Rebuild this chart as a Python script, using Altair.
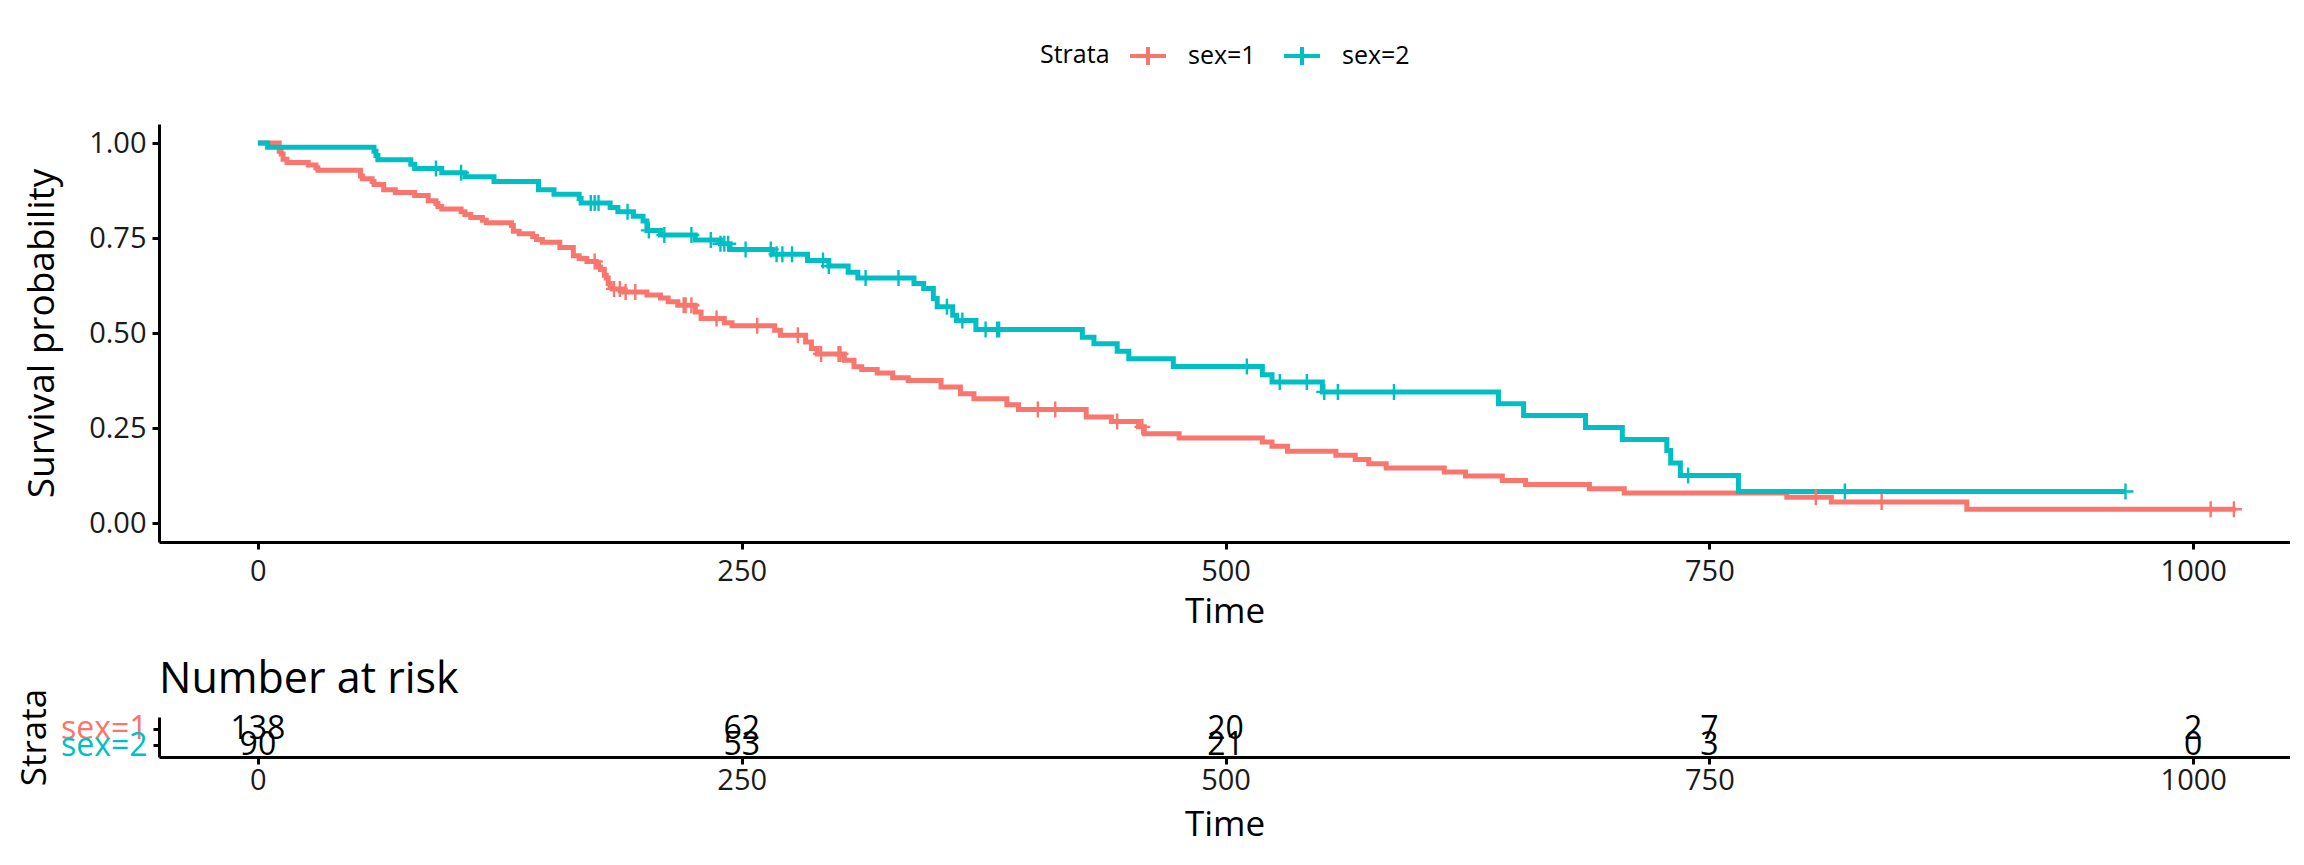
import altair as alt
import pandas as pd

STRATA = ["sex=1", "sex=2"]
COLORS = ["#F8766D", "#00BFC4"]

# sex=1 Kaplan-Meier steps (time, survival after step)
m_time = [0, 11, 12, 13, 15, 26, 30, 31, 53, 54, 59, 60, 65, 71, 81, 88, 92, 93, 95, 105,
          107, 110, 116, 118, 131, 132, 135, 142, 144, 147, 156, 163, 166, 170, 175, 176,
          177, 179, 180, 181, 182, 183, 189, 201, 208, 212, 217, 226, 229, 241, 245, 267,
          270, 283, 286, 289, 303, 308, 312, 320, 328, 336, 353, 363, 370, 387, 393, 428,
          441, 455, 458, 476, 519, 524, 532, 557, 567, 574, 583, 613, 624, 643, 655, 688,
          706, 790, 813, 883, 1022]
m_surv = [1.0, 0.978, 0.971, 0.957, 0.949, 0.942, 0.935, 0.928, 0.913, 0.906, 0.899, 0.891,
          0.877, 0.870, 0.862, 0.848, 0.841, 0.833, 0.826, 0.819, 0.812, 0.804, 0.797, 0.790,
          0.783, 0.768, 0.761, 0.754, 0.746, 0.739, 0.725, 0.703, 0.696, 0.688, 0.681, 0.674,
          0.667, 0.652, 0.645, 0.630, 0.623, 0.616, 0.608, 0.600, 0.592, 0.582, 0.573, 0.555,
          0.538, 0.527, 0.519, 0.507, 0.494, 0.476, 0.459, 0.445, 0.428, 0.411, 0.404, 0.395,
          0.382, 0.375, 0.358, 0.340, 0.327, 0.311, 0.299, 0.279, 0.267, 0.253, 0.235, 0.224,
          0.213, 0.202, 0.189, 0.178, 0.167, 0.156, 0.145, 0.134, 0.124, 0.112, 0.101, 0.090,
          0.079, 0.068, 0.055, 0.036, 0.036]
m_cens = [174, 184, 187, 190, 195, 220, 221, 224, 237, 258, 279, 291, 300, 301, 403, 412,
          444, 457, 805, 839, 1009, 1021]

# sex=2 Kaplan-Meier steps
f_time = [0, 5, 60, 61, 62, 79, 81, 95, 107, 122, 145, 153, 166, 167, 182, 186, 194, 199,
          201, 208, 226, 239, 244, 266, 284, 295, 305, 310, 339, 344, 349, 351, 359, 361,
          371, 426, 432, 444, 450, 473, 519, 524, 550, 641, 654, 686, 705, 728, 730, 735,
          765, 965]
f_surv = [1.0, 0.989, 0.978, 0.967, 0.956, 0.944, 0.933, 0.922, 0.911, 0.899, 0.877, 0.865,
          0.854, 0.842, 0.830, 0.819, 0.807, 0.795, 0.770, 0.758, 0.745, 0.735, 0.720, 0.707,
          0.691, 0.676, 0.660, 0.645, 0.630, 0.617, 0.591, 0.569, 0.547, 0.533, 0.509, 0.489,
          0.472, 0.452, 0.432, 0.412, 0.390, 0.371, 0.345, 0.314, 0.283, 0.251, 0.220, 0.191,
          0.158, 0.125, 0.083, 0.083]
f_cens = [92, 105, 172, 174, 176, 191, 202, 210, 224, 234, 239, 241, 243, 252, 265, 268,
          271, 276, 292, 295, 314, 331, 356, 364, 376, 382, 383, 511, 528, 542, 551, 558,
          587, 739, 820, 965]

# number at risk
risk_times = [0, 250, 500, 750, 1000]
risk_m = [138, 62, 20, 7, 2]
risk_f = [90, 53, 21, 3, 0]


def surv_at(times, survs, t):
    s = survs[0]
    for tt, ss in zip(times, survs):
        if tt <= t:
            s = ss
        else:
            break
    return s


curve = pd.concat([
    pd.DataFrame({"time": m_time, "surv": m_surv, "strata": STRATA[0]}),
    pd.DataFrame({"time": f_time, "surv": f_surv, "strata": STRATA[1]}),
], ignore_index=True)

cens = pd.concat([
    pd.DataFrame({"time": m_cens, "surv": [surv_at(m_time, m_surv, t) for t in m_cens],
                  "strata": STRATA[0]}),
    pd.DataFrame({"time": f_cens, "surv": [surv_at(f_time, f_surv, t) for t in f_cens],
                  "strata": STRATA[1]}),
], ignore_index=True)

risk = pd.concat([
    pd.DataFrame({"time": risk_times, "n": risk_m, "strata": STRATA[0]}),
    pd.DataFrame({"time": risk_times, "n": risk_f, "strata": STRATA[1]}),
], ignore_index=True)

FONT = "Open Sans"
W = 2131
xscale = alt.Scale(domain=[-51.1, 1050], nice=False, zero=False)


def x_axis(label_pad, title_pad):
    return alt.Axis(values=[0, 250, 500, 750, 1000], format="d", title="Time", grid=False,
                    domainColor="black", domainWidth=3, tickColor="black", tickWidth=3,
                    tickSize=7, labelFontSize=29, labelColor="#1a1a1a",
                    labelPadding=label_pad, titleFontSize=35, titleFontWeight="normal",
                    titleColor="black", titlePadding=title_pad, labelFont=FONT,
                    titleFont=FONT, labelFlush=False)


color = alt.Color("strata:N", scale=alt.Scale(domain=STRATA, range=COLORS),
                  legend=alt.Legend(title="Strata", orient="none", direction="horizontal",
                                    legendX=881, legendY=-88, titleOrient="left",
                                    titleFontSize=25, titleFontWeight="normal",
                                    titleColor="black", labelFontSize=25, labelColor="black",
                                    titleFont=FONT, labelFont=FONT, titlePadding=18,
                                    symbolType="M-1,0L1,0M0,-0.5L0,0.5", symbolSize=1296,
                                    symbolStrokeWidth=4, labelOffset=20, columnPadding=20,
                                    symbolOpacity=1))

yaxis = alt.Axis(values=[0, 0.25, 0.5, 0.75, 1.0], format=".2f", title="Survival probability",
                 grid=False, domainColor="black", domainWidth=3, tickColor="black",
                 tickWidth=3, tickSize=7, labelFontSize=29, labelColor="#1a1a1a",
                 labelPadding=6, titleFontSize=37, titleFontWeight="normal",
                 titleColor="black", titlePadding=27, labelFont=FONT, titleFont=FONT)

lines = alt.Chart(curve).mark_line(interpolate="step-after", strokeWidth=5).encode(
    x=alt.X("time:Q", scale=xscale, axis=x_axis(8, 8)),
    y=alt.Y("surv:Q", scale=alt.Scale(domain=[-0.05, 1.05], nice=False, zero=False),
            axis=yaxis),
    color=color,
)

points = alt.Chart(cens).mark_point(shape="M-1,0L1,0M0,-1L0,1", size=256, strokeWidth=2.4,
                                    filled=False, opacity=1).encode(
    x=alt.X("time:Q", scale=xscale),
    y=alt.Y("surv:Q"),
    color=alt.Color("strata:N", legend=None),
)

main = alt.layer(lines, points).properties(width=W, height=418)

risk_chart = alt.Chart(risk).mark_text(fontSize=32, font=FONT, color="black").encode(
    x=alt.X("time:Q", scale=xscale, axis=x_axis(2, 12)),
    y=alt.Y("strata:N", scale=alt.Scale(type="point", padding=0.68, domain=STRATA),
            axis=alt.Axis(title="Strata", grid=False, domainColor="black", domainWidth=3,
                          tickColor="black", tickWidth=3, tickSize=6, labelFontSize=32,
                          labelColor={"condition": {"test": "datum.value == 'sex=1'",
                                                    "value": COLORS[0]},
                                      "value": COLORS[1]},
                          labelPadding=6, titleFontSize=35, titleFontWeight="normal",
                          titleColor="black", titlePadding=8, labelFont=FONT,
                          titleFont=FONT)),
    text="n:N",
).properties(width=W, height=40,
             title=alt.TitleParams("Number at risk", anchor="start", frame="group",
                                   fontSize=43, font=FONT, fontWeight="normal",
                                   color="black", offset=-14))

chart = alt.vconcat(main, risk_chart, spacing=30).properties(
    padding={"left": 9, "top": 28, "right": 0, "bottom": 12}
).configure(font=FONT).configure_view(stroke="transparent", strokeWidth=0)

chart.save("out.html", embed_options={"renderer": "svg", "actions": False})
